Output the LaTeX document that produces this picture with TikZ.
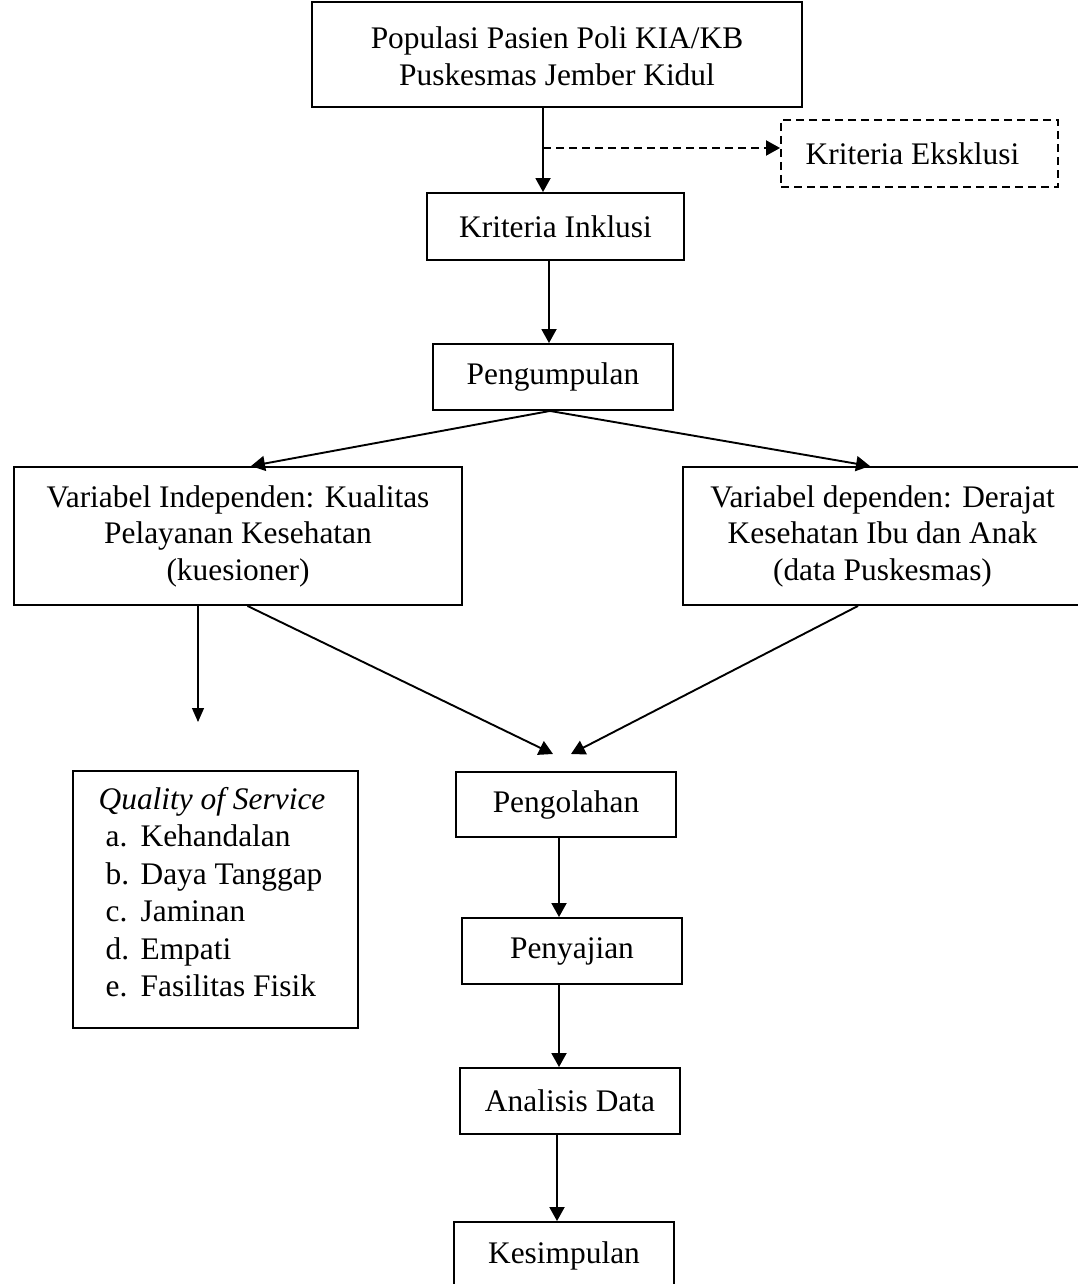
\documentclass[tikz,border=0pt]{standalone}
\usepackage{fontspec}
\setmainfont{Liberation Serif}
\usetikzlibrary{arrows.meta}
\begin{document}
\begin{tikzpicture}[x=1pt,y=-1pt,
  box/.style={draw, line width=1.9pt, inner sep=0pt, align=center,
    font=\fontsize{31.4}{36.5}\selectfont},
  dbox/.style={box, dash pattern=on 8pt off 5pt},
  arr/.style={line width=1.9pt, -{Triangle[length=14pt,width=15pt]}},
  thinarr/.style={line width=1.2pt, -{Triangle[length=14pt,width=12pt]}},
  darr/.style={arr, dash pattern=on 8pt off 5pt},
]
\useasboundingbox (0,0) rectangle (1078,1284);
\fill[white] (0,0) rectangle (1078,1284);

\node[box, minimum width=490, minimum height=105] (top) at (557,54.5)
  {\raisebox{-5pt}[\height][\depth]{\begin{tabular}{@{}c@{}}Populasi Pasien Poli KIA/KB\\Puskesmas Jember Kidul\end{tabular}}};
\node[dbox, minimum width=277, minimum height=67] (excl) at (919.5,153.5)
  {Kriteria Eksklusi\hspace*{14pt}};
\node[box, minimum width=257, minimum height=67] (inkl) at (555.5,226.5)
  {Kriteria Inklusi};
\node[box, minimum width=240, minimum height=66] (peng) at (553,377)
  {Pengumpulan};
\node[box, minimum width=448, minimum height=138] (indep) at (238,536)
  {Variabel Independen: Kualitas\\Pelayanan Kesehatan\\(kuesioner)};
\node[box, minimum width=399, minimum height=138] (dep) at (882.5,536)
  {Variabel dependen: Derajat\\Kesehatan Ibu dan Anak\\(data Puskesmas)};
\node[box, minimum width=285, minimum height=257] (qual) at (215.5,899.5)
  {\fontsize{31.4}{37.4}\selectfont\raisebox{4pt}[\height][\depth]{\begin{tabular}{@{}l@{}}
   \hspace*{-7pt}\textit{Quality of Service}\\
   \makebox[35pt][l]{a.}Kehandalan\\
   \makebox[35pt][l]{b.}Daya Tanggap\\
   \makebox[35pt][l]{c.}Jaminan\\
   \makebox[35pt][l]{d.}Empati\\
   \makebox[35pt][l]{e.}Fasilitas Fisik
   \end{tabular}}};
\node[box, minimum width=220, minimum height=65] (olah) at (566,804.5)
  {Pengolahan};
\node[box, minimum width=220, minimum height=66] (saji) at (572,951)
  {Penyajian};
\node[box, minimum width=220, minimum height=66] (anal) at (570,1101)
  {Analisis Data};
\node[box, minimum width=220, minimum height=68] (simp) at (564,1256)
  {Kesimpulan};

\coordinate (qtip) at (198,722);
\coordinate (m1) at (553,754);
\coordinate (m2) at (571,754);

\draw[arr] ([xshift=-14pt]top.south) -- ([xshift=-14pt]top.south |- inkl.north);
\draw[darr] ([xshift=-14pt,yshift=5.5pt]top.south |- excl.west) -- ([yshift=5.5pt]excl.west);
\draw[arr] ([xshift=-4pt]peng.north |- inkl.south) -- ([xshift=-4pt]peng.north);
\draw[arr] ([xshift=-3pt]peng.south) -- ([xshift=13pt]indep.north);
\draw[arr] ([xshift=-3pt]peng.south) -- ([xshift=-12.5pt]dep.north);
\draw[thinarr] ([xshift=-40pt]indep.south) -- (qtip);
\draw[arr] ([xshift=9.5pt]indep.south) -- (m1);
\draw[arr] ([xshift=-24.5pt]dep.south) -- (m2);
\draw[arr] ([xshift=-7pt]olah.south) -- ([xshift=-7pt]olah.south |- saji.north);
\draw[arr] ([xshift=-13pt]saji.south) -- ([xshift=-13pt]saji.south |- anal.north);
\draw[arr] ([xshift=-13pt]anal.south) -- ([xshift=-13pt]anal.south |- simp.north);
\end{tikzpicture}
\end{document}
